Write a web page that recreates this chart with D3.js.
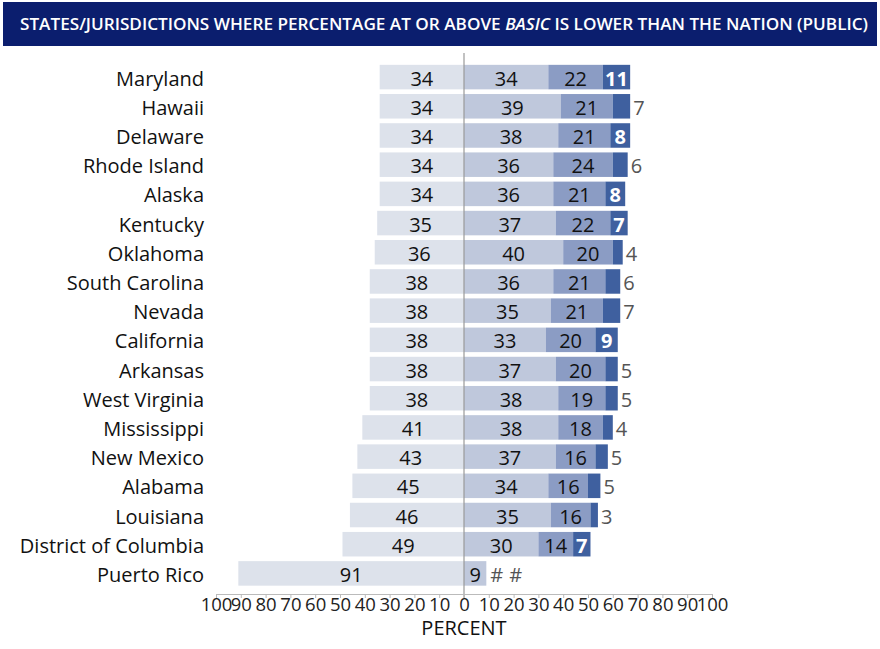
<!DOCTYPE html>
<html>
<head>
<meta charset="utf-8">
<script src="https://cdn.jsdelivr.net/npm/d3@7"></script>
<style>
  body { margin: 0; background: #fff; }
  text { font-family: "Open Sans", sans-serif; }
</style>
</head>
<body>
<script>
// Data
const states = ["Maryland", "Hawaii", "Delaware", "Rhode Island", "Alaska", "Kentucky",
  "Oklahoma", "South Carolina", "Nevada", "California", "Arkansas", "West Virginia",
  "Mississippi", "New Mexico", "Alabama", "Louisiana", "District of Columbia", "Puerto Rico"];
const belowBasic = [34, 34, 34, 34, 34, 35, 36, 38, 38, 38, 38, 38, 41, 43, 45, 46, 49, 91];
const basic      = [34, 39, 38, 36, 36, 37, 40, 36, 35, 33, 37, 38, 38, 37, 34, 35, 30, 9];
const proficient = [22, 21, 21, 24, 21, 22, 20, 21, 21, 20, 20, 19, 18, 16, 16, 16, 14, 0];
const advanced   = [11, 7, 8, 6, 8, 7, 4, 6, 7, 9, 5, 5, 4, 5, 5, 3, 7, 0];
// "#" = rounds to zero
const profLabel = proficient.map(String);
profLabel[17] = "#";
const advLabel = advanced.map(String);
advLabel[17] = "#";
// states where the advanced value is printed inside the bar
const advInside = ["Maryland", "Delaware", "Alaska", "Kentucky", "California", "District of Columbia"];
const ticks = [-100, -90, -80, -70, -60, -50, -40, -30, -20, -10, 0, 10, 20, 30, 40, 50, 60, 70, 80, 90, 100];

const W = 880, H = 649;
const colors = {below: "#dde2eb", basic: "#bfc8dc", prof: "#8b9cc4", adv: "#3f609f"};

const svg = d3.select("body").append("svg")
  .attr("width", W).attr("height", H);

// titulo
svg.append("rect").attr("x", 3).attr("y", 2).attr("width", 874).attr("height", 44)
  .attr("fill", "#0b1e6e");
const title = svg.append("text").attr("x", 20).attr("y", 30)
  .attr("fill", "#fff").style("font-size", "17px").style("font-weight", 600)
  .attr("textLength", 848).attr("lengthAdjust", "spacingAndGlyphs");
title.append("tspan").text("STATES/JURISDICTIONS WHERE PERCENTAGE AT OR ABOVE ");
title.append("tspan").style("font-style", "italic").text("BASIC");
title.append("tspan").text(" IS LOWER THAN THE NATION (PUBLIC)");

// escalas
const x = d3.scaleLinear().domain([-100, 100]).range([216, 712]);
const y = d3.scaleBand().domain(states).range([62.5, 588]).paddingInner(0.16).paddingOuter(0.08);

const rows = states.map((s, i) => ({
  name: s, i: i,
  segs: [
    {k: "below", x0: -belowBasic[i], x1: 0, label: String(belowBasic[i])},
    {k: "basic", x0: 0, x1: basic[i], label: String(basic[i])},
    {k: "prof", x0: basic[i], x1: basic[i] + proficient[i], label: profLabel[i]},
    {k: "adv", x0: basic[i] + proficient[i], x1: basic[i] + proficient[i] + advanced[i], label: advLabel[i]}
  ]
}));

const g = svg.append("g");
const row = g.selectAll(".row").data(rows).enter().append("g")
  .attr("transform", d => "translate(0," + y(d.name) + ")");

row.selectAll("rect").data(d => d.segs.filter(s => s.x1 > s.x0)).enter().append("rect")
  .attr("x", s => x(s.x0))
  .attr("width", s => x(s.x1) - x(s.x0))
  .attr("height", y.bandwidth())
  .attr("fill", s => colors[s.k]);

const fs = 20;
const cy = y.bandwidth() / 2 + 8.5;

// labels dentro das barras
row.each(function(d) {
  const r = d3.select(this);
  const end = d.segs[3].x1;
  d.segs.forEach((s, j) => {
    if (j < 2 || (j === 2 && s.label !== "#")) {
      r.append("text").attr("x", (x(s.x0) + x(s.x1)) / 2).attr("y", cy)
        .attr("text-anchor", "middle").style("font-size", fs + "px").attr("fill", "#111")
        .text(s.label);
    }
  });
  const adv = d.segs[3];
  if (d.segs[2].label === "#") {
    r.append("text").attr("x", x(end) + 4).attr("y", cy).style("font-size", fs + "px")
      .attr("fill", "#555").text("#");
    r.append("text").attr("x", x(end) + 23).attr("y", cy).style("font-size", fs + "px")
      .attr("fill", "#555").text("#");
  } else if (advInside.includes(d.name)) {
    r.append("text").attr("x", (x(adv.x0) + x(adv.x1)) / 2).attr("y", cy)
      .attr("text-anchor", "middle").style("font-size", fs + "px").style("font-weight", 700)
      .attr("fill", "#fff").text(adv.label);
  } else {
    r.append("text").attr("x", x(end) + 3).attr("y", cy).style("font-size", fs + "px")
      .attr("fill", "#555").text(adv.label);
  }
});

// nomes dos estados
g.selectAll(".state").data(states).enter().append("text")
  .attr("x", 204).attr("y", d => y(d) + cy)
  .attr("text-anchor", "end").style("font-size", "20px").attr("fill", "#111")
  .text(d => d);

// linha do zero
svg.append("line").attr("x1", x(0)).attr("x2", x(0)).attr("y1", 53).attr("y2", 598)
  .attr("stroke", "#999").attr("stroke-width", 1.2);

// eixo
const axis = svg.append("g").attr("transform", "translate(0,594)")
  .call(d3.axisBottom(x).tickValues(ticks).tickFormat(d => Math.abs(d)).tickSize(4).tickSizeOuter(0));
axis.select(".domain").attr("stroke", "#bbb");
axis.selectAll(".tick line").attr("stroke", "#bbb");
axis.selectAll(".tick text").style("font-size", "18.5px").attr("fill", "#222")
  .attr("dy", "0.55em").style("font-family", "'Open Sans', sans-serif");

svg.append("text").attr("x", x(0)).attr("y", 635).attr("text-anchor", "middle")
  .style("font-size", "20px").attr("fill", "#111").text("PERCENT");
</script>
</body>
</html>
